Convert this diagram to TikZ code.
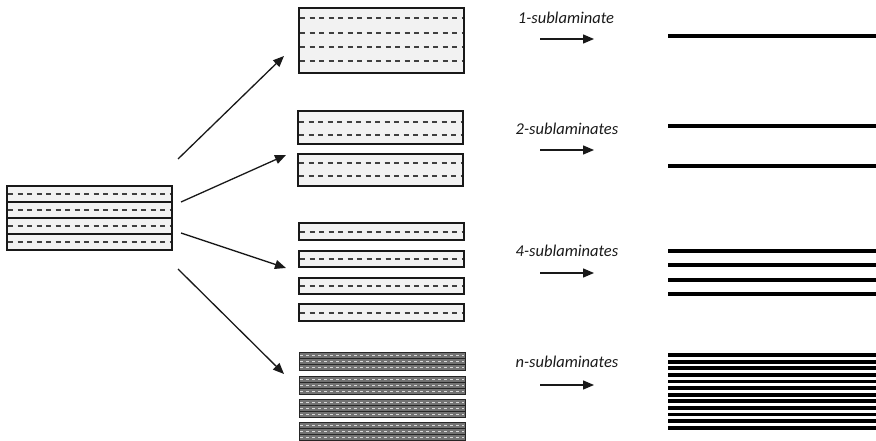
\documentclass[tikz,border=0pt]{standalone}
\usepackage{fontspec}
\setmainfont{Carlito}
\usetikzlibrary{arrows.meta}
\begin{document}
\begin{tikzpicture}[x=1pt,y=-1pt,
  lam/.style={draw=black!90, fill=black!5, line width=1.1pt},
  dsh/.style={draw=black!75, line width=1.4pt, dash pattern=on 5pt off 4.5pt},
  thinlam/.style={draw=black!85, fill=black!55, line width=0.8pt},
  thindsh/.style={draw=white!85!black, line width=1pt, dash pattern=on 3pt off 3pt},
  ply/.style={draw=black, line width=3.8pt},
  arr/.style={draw=black!90, line width=1.3pt, -{Triangle[length=11pt,width=9pt]}},
  lbl/.style={font=\itshape\fontsize{16.5}{18}\selectfont, text=black!90, inner sep=0pt}]
\useasboundingbox (0,0) rectangle (876,441);

% --- original laminate (left) ---
\draw[lam] (7,186) rectangle (172,250);
\node[inner sep=0pt, minimum width=165pt, minimum height=64pt] (stack) at (89.5,218) {};
\foreach \y in {202,218,234} \draw[draw=black!90, line width=1.1pt] (7,\y) -- (172,\y);
\foreach \y in {194,210,226,242} \draw[dsh] (8,\y) -- (171,\y);

% --- 1 sublaminate ---
\draw[lam] (299,8) rectangle (464,73);
\node[inner sep=0pt, minimum width=165pt, minimum height=65pt] (s1) at (381.5,40.5) {};
\foreach \y in {18,33,47,61} \draw[dsh] (300,\y) -- (463,\y);

% --- 2 sublaminates ---
\draw[lam] (298,111) rectangle (463,144);
\draw[lam] (298,154) rectangle (463,186);
\node[inner sep=0pt, minimum width=165pt, minimum height=75pt] (s2) at (380.5,148.5) {};
\foreach \y in {122,135,163,176} \draw[dsh] (299,\y) -- (462,\y);

% --- 4 sublaminates ---
\foreach \t/\b/\m in {223/240/232,251/267/259,278/294/286,304/321/313}{
  \draw[lam] (299,\t) rectangle (464,\b);
  \draw[dsh] (300,\m) -- (463,\m);
}
\node[inner sep=0pt, minimum width=165pt, minimum height=98pt] (s4) at (381.5,272) {};

% --- n sublaminates ---
\foreach \g in {352,376,399,422}{
  \foreach \k in {0,1,2}{
    \draw[thinlam] (299,{\g+6*\k}) rectangle (465,{\g+6*\k+6});
    \draw[thindsh] (300,{\g+6*\k+3}) -- (464,{\g+6*\k+3});
  }
}
\node[inner sep=0pt, minimum width=166pt, minimum height=88pt] (sn) at (382,396) {};

% --- diagonal arrows ---
\coordinate (d1s) at (178,159); \coordinate (d1e) at (284,56);
\coordinate (d2s) at (181,202); \coordinate (d2e) at (286,155);
\coordinate (d3s) at (181,233); \coordinate (d3e) at (286,268);
\coordinate (d4s) at (178,269); \coordinate (d4e) at (284,374);
\draw[arr] (d1s) -- (d1e);
\draw[arr] (d2s) -- (d2e);
\draw[arr] (d3s) -- (d3e);
\draw[arr] (d4s) -- (d4e);

% --- labels and small arrows ---
\node[lbl] (l1) at (566,18) {1-sublaminate};
\node[lbl] (l2) at (567,129) {2-sublaminates};
\node[lbl] (l4) at (567,251) {4-sublaminates};
\node[lbl] (ln) at (567,362) {n-sublaminates};
\foreach \n/\y in {1/39,2/150,4/273,n/385}{
  \coordinate (h\n s) at (540,\y);
  \coordinate (h\n e) at (594,\y);
  \draw[arr] (h\n s) -- (h\n e);
}

% --- equivalent plies (right) ---
\foreach \y in {36,126,166,251,265,280,294}
  \draw[ply] (668,\y) -- (876,\y);
\foreach \i in {0,...,11}
  \draw[ply] (668,{355+\i*6.6}) -- (876,{355+\i*6.6});
\end{tikzpicture}
\end{document}
